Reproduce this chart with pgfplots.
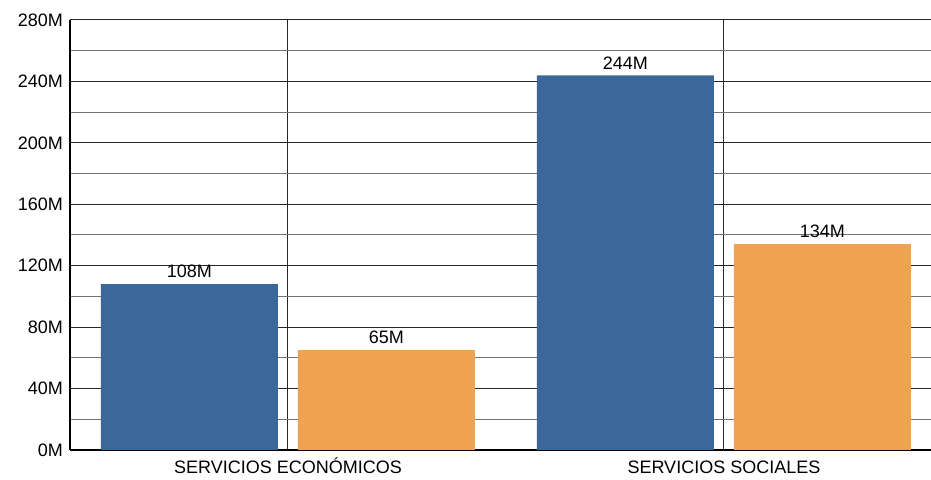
\documentclass[border=0pt]{standalone}
\usepackage{pgfplots}
\usepackage{fontspec}
\setmainfont{Liberation Sans}
\pgfplotsset{compat=1.18}
\definecolor{barblue}{RGB}{59,103,153}
\definecolor{barorange}{RGB}{239,163,82}

\begin{document}
\begin{tikzpicture}
\path[use as bounding box] (-35pt,-15pt) rectangle (430.5pt,225pt);
\begin{axis}[
    at={(0,0)}, anchor=south west,
    scale only axis,
    width=430.5pt, height=215pt,
    ybar=10pt, bar width=88.5pt,
    xmin=-0.5, xmax=1.475,
    ymin=0, ymax=280,
    xtick={0,1},
    xticklabels={SERVICIOS ECONÓMICOS, SERVICIOS SOCIALES},
    ytick={0,40,...,280},
    yticklabels={0M,40M,80M,120M,160M,200M,240M,280M},
    minor ytick={20,60,...,260},
    ymajorgrids, yminorgrids, xmajorgrids,
    major grid style={black!85, line width=0.5pt},
    minor grid style={black!55, line width=0.5pt},
    axis x line*=bottom, axis y line*=left,
    x axis line style={black, line width=1pt},
    y axis line style={black, line width=0.7pt},
    major tick length=0pt, minor tick length=0pt,
    tick label style={font=\fontsize{9}{11}\selectfont, black},
    x tick label style={text height=7pt, text depth=2pt, yshift=-1pt},
    /pgf/number format/assume math mode=true,
    nodes near coords={\pgfmathprintnumber{\pgfplotspointmeta}M},
    every node near coord/.append style={font=\fontsize{9}{11}\selectfont, black, yshift=-0.5pt},
]
\addplot[fill=barblue, draw=none] coordinates {(0,108) (1,244)};
\addplot[fill=barorange, draw=none] coordinates {(0,65) (1,134)};
\end{axis}
\end{tikzpicture}
\end{document}
